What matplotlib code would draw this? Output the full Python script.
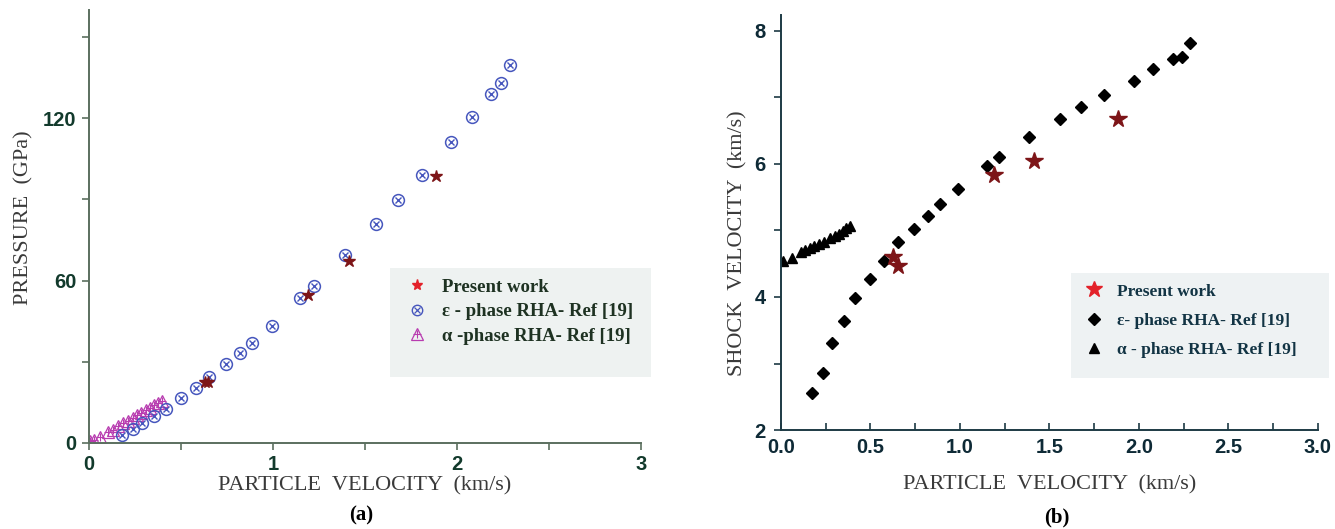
import matplotlib
matplotlib.use('Agg')
import matplotlib.pyplot as plt
from matplotlib.lines import Line2D
from matplotlib.patches import Rectangle
from matplotlib.legend_handler import HandlerTuple
import numpy as np

# (a) pressure vs particle velocity
eps_up_a = [0.180, 0.237, 0.287, 0.353, 0.419, 0.501, 0.579, 0.654, 0.743, 0.818, 0.886, 0.993,
            1.148, 1.221, 1.390, 1.560, 1.679, 1.811, 1.968, 2.080, 2.187, 2.239, 2.289]
eps_p_a = [3.1, 5.2, 7.3, 9.8, 12.7, 16.7, 20.4, 24.5, 29.1, 33.3, 37.1, 43.3,
           53.4, 57.9, 69.3, 81.0, 89.7, 99.1, 111.2, 120.3, 129.0, 132.9, 139.6]
alpha_up_a = [0.005, 0.027, 0.059, 0.101, 0.128, 0.156, 0.183, 0.211, 0.238, 0.262,
              0.284, 0.311, 0.330, 0.353, 0.375, 0.394]
alpha_p_a = [0.6, 1.2, 2.2, 3.9, 4.9, 6.1, 7.3, 8.3, 9.3, 10.4, 11.2, 12.2, 13.1, 13.9, 14.9, 15.6]
work_up_a = [0.631, 0.649, 1.191, 1.412, 1.884]
work_p_a = [22.6, 22.6, 54.7, 67.1, 98.6]

# (b) shock velocity vs particle velocity
eps_up_b = [0.175, 0.233, 0.284, 0.350, 0.415, 0.500, 0.576, 0.653, 0.741, 0.819, 0.887, 0.989,
            1.149, 1.219, 1.387, 1.559, 1.676, 1.805, 1.970, 2.079, 2.188, 2.240, 2.288]
eps_us_b = [2.55, 2.86, 3.31, 3.64, 3.98, 4.27, 4.54, 4.82, 5.02, 5.22, 5.39, 5.62,
            5.97, 6.11, 6.41, 6.68, 6.85, 7.03, 7.25, 7.42, 7.57, 7.60, 7.82]
alpha_up_b = [0.009, 0.059, 0.110, 0.132, 0.160, 0.182, 0.215, 0.243, 0.274, 0.302,
              0.325, 0.347, 0.366, 0.384]
alpha_us_b = [4.54, 4.58, 4.67, 4.70, 4.73, 4.76, 4.79, 4.82, 4.88, 4.91, 4.95, 4.99, 5.03, 5.06]
work_up_b = [0.627, 0.656, 1.190, 1.414, 1.882]
work_us_b = [4.60, 4.46, 5.84, 6.05, 6.67]

labels_a = ['Present work', '\u03b5 - phase RHA- Ref [19]', '\u03b1 -phase RHA- Ref [19]']
labels_b = ['Present work', '\u03b5- phase RHA- Ref [19]', '\u03b1 - phase RHA- Ref [19]']

blue = '#4656bd'
magenta = '#b83cb0'
darkred = '#7d1518'
legred = '#e3222a'
serif = 'Liberation Serif'
sans = 'Liberation Sans'

fig = plt.figure(figsize=(13.35, 5.29), dpi=100)

# ---------------- panel (a) ----------------
ax1 = fig.add_axes([0.0667, 0.1626, 0.4135, 0.8185])
ax1.plot(alpha_up_a, alpha_p_a, ls='none', marker='^', ms=8, mfc='none', mec=magenta, mew=0.9)
ax1.plot(alpha_up_a, alpha_p_a, ls='none', marker='+', ms=6, mec=magenta, mew=0.8)
ax1.plot(eps_up_a, eps_p_a, ls='none', marker='o', ms=8.5, mfc='none', mec=blue, mew=1.1)
ax1.plot(eps_up_a, eps_p_a, ls='none', marker='x', ms=5, mec=blue, mew=1.0)
ax1.plot(work_up_a, work_p_a, ls='none', marker='*', ms=9, color=darkred)

ax1.set_xlim(0, 3)
ax1.set_ylim(0, 160)
ax1.set_xticks([0, 1, 2, 3])
ax1.set_xticks([0.5, 1.5, 2.5], minor=True)
ax1.set_yticks([0, 60, 120])
ax1.set_yticks([30, 90, 150], minor=True)
for s in ['top', 'right']:
    ax1.spines[s].set_visible(False)
for s in ['left', 'bottom']:
    ax1.spines[s].set_color('#5b6f5f')
    ax1.spines[s].set_linewidth(1.4)
ax1.tick_params(which='both', direction='out', length=5, width=1.2, color='#5b6f5f')
ax1.tick_params(axis='both', labelsize=14.5, labelcolor='#123a2c', pad=4)
for t in ax1.get_xticklabels() + ax1.get_yticklabels():
    t.set_fontweight('bold')
    t.set_fontfamily(sans)
ax1.set_xlabel('PARTICLE  VELOCITY  (km/s)', fontsize=16, family=serif, color='#3a3a3a', labelpad=1)
ax1.set_ylabel('PRESSURE  (GPa)', fontsize=16, family=serif, color='#3a3a3a')
ax1.yaxis.set_label_coords(-0.1, 0.52)

ax1.add_patch(Rectangle((0.545, 0.152), 0.473, 0.252, transform=ax1.transAxes,
                        facecolor='#eef2f1', edgecolor='none', clip_on=False, zorder=0.5))
h_work_a = Line2D([], [], ls='none', marker='*', ms=8, color=legred)
h_eps_a = (Line2D([], [], ls='none', marker='o', ms=7.5, mfc='none', mec=blue, mew=1.0),
           Line2D([], [], ls='none', marker='x', ms=4.5, mec=blue, mew=0.9))
h_alpha_a = (Line2D([], [], ls='none', marker='^', ms=8, mfc='none', mec=magenta, mew=0.9),
             Line2D([], [], ls='none', marker='+', ms=6, mec=magenta, mew=0.8))
leg1 = ax1.legend([h_work_a, h_eps_a, h_alpha_a], labels_a,
                  handler_map={tuple: HandlerTuple(ndivide=1)},
                  loc='upper left', bbox_to_anchor=(0.555, 0.397), frameon=False,
                  borderaxespad=0, handlelength=1.5, handletextpad=0.6, labelspacing=0.4,
                  prop={'family': serif, 'weight': 'bold', 'size': 13.5})
for t in leg1.get_texts():
    t.set_color('#1e3222')

# ---------------- panel (b) ----------------
ax2 = fig.add_axes([0.585, 0.187, 0.4022, 0.785])
ax2.plot(alpha_up_b, alpha_us_b, ls='none', marker='^', ms=7, color='black')
ax2.plot(eps_up_b, eps_us_b, ls='none', marker='D', ms=6, color='black')
ax2.plot(work_up_b, work_us_b, ls='none', marker='*', ms=13, color=darkred)

ax2.set_xlim(0, 3)
ax2.set_ylim(2, 8.24)
ax2.set_xticks(np.arange(0, 3.01, 0.5))
ax2.set_xticks(np.arange(0.25, 3.0, 0.5), minor=True)
ax2.set_yticks([2, 4, 6, 8])
ax2.set_yticks([3, 5, 7], minor=True)
ax2.xaxis.set_major_formatter(plt.FormatStrFormatter('%.1f'))
for s in ['top', 'right']:
    ax2.spines[s].set_visible(False)
for s in ['left', 'bottom']:
    ax2.spines[s].set_color('#1d3a44')
    ax2.spines[s].set_linewidth(1.4)
ax2.tick_params(axis='x', which='both', direction='in', length=5, width=1.2, color='#1d3a44')
ax2.tick_params(axis='y', which='both', direction='out', length=5, width=1.2, color='#1d3a44')
ax2.tick_params(axis='both', labelsize=14.5, labelcolor='#0e2a36', pad=6)
for t in ax2.get_xticklabels() + ax2.get_yticklabels():
    t.set_fontweight('bold')
    t.set_fontfamily(sans)
ax2.set_xlabel('PARTICLE  VELOCITY  (km/s)', fontsize=16, family=serif, color='#3a3a3a', labelpad=13)
ax2.set_ylabel('SHOCK  VELOCITY  (km/s)', fontsize=16, family=serif, color='#3a3a3a')
ax2.yaxis.set_label_coords(-0.062, 0.45)

ax2.add_patch(Rectangle((0.541, 0.125), 0.48, 0.253, transform=ax2.transAxes,
                        facecolor='#eef2f3', edgecolor='none', clip_on=False, zorder=0.5))
h_work_b = Line2D([], [], ls='none', marker='*', ms=12, color=legred)
h_eps_b = Line2D([], [], ls='none', marker='D', ms=6, color='black')
h_alpha_b = Line2D([], [], ls='none', marker='^', ms=7, color='black')
leg2 = ax2.legend([h_work_b, h_eps_b, h_alpha_b], labels_b,
                  loc='upper left', bbox_to_anchor=(0.545, 0.37), frameon=False,
                  borderaxespad=0, handlelength=1.5, handletextpad=0.6, labelspacing=0.75,
                  prop={'family': serif, 'weight': 'bold', 'size': 12.5})
for t in leg2.get_texts():
    t.set_color('#123444')

fig.text(0.2704, 0.026, '(a)', ha='center', va='center', fontsize=15, fontweight='bold', family=serif)
fig.text(0.7918, 0.022, '(b)', ha='center', va='center', fontsize=15, fontweight='bold', family=serif)

fig.savefig('out.png', dpi=100)
